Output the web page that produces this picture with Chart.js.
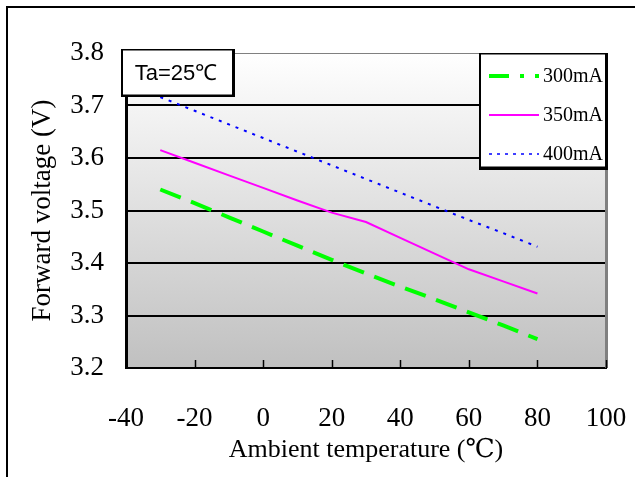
<!DOCTYPE html>
<html>
<head>
<meta charset="utf-8">
<script src="https://cdn.jsdelivr.net/npm/chart.js@4.4.0/dist/chart.umd.min.js"></script>
<style>
  html, body { margin: 0; padding: 0; background: #fff; }
</style>
</head>
<body>
<canvas id="vfChart" width="635" height="477"></canvas>
<script>
// values
const temps = [-30, -20, -10, 0, 10, 20, 30, 40, 50, 60, 70, 80];
const v300 = [3.540, 3.514, 3.487, 3.460, 3.433, 3.406, 3.380, 3.355, 3.331, 3.306, 3.281, 3.255];
const v350 = [3.615, 3.591, 3.567, 3.543, 3.519, 3.496, 3.478, 3.448, 3.418, 3.388, 3.365, 3.342];
const v400 = [3.716, 3.690, 3.664, 3.638, 3.612, 3.586, 3.560, 3.534, 3.508, 3.482, 3.457, 3.431];
const seriesLabels = ['300mA', '350mA', '400mA'];
const xTickValues = [-40, -20, 0, 20, 40, 60, 80, 100];
const yTickValues = [3.2, 3.3, 3.4, 3.5, 3.6, 3.7, 3.8];
const noteText = 'Ta=25℃';
const xTitle = 'Ambient temperature (℃)';
const yTitle = 'Forward voltage (V)';

const serif = "'Liberation Serif', 'DejaVu Serif', serif";

const toPoints = (vals) => temps.map((t, i) => ({ x: t, y: vals[i] }));

const decorPlugin = {
  id: 'decor',
  beforeDraw(chart) {
    const { ctx, chartArea: a } = chart;
    ctx.save();
    const g = ctx.createLinearGradient(0, a.top, 0, a.bottom);
    g.addColorStop(0, '#ffffff');
    g.addColorStop(1, '#c0c0c0');
    ctx.fillStyle = g;
    ctx.fillRect(a.left, a.top, a.right - a.left, a.bottom - a.top);
    // picture frame, top and left only
    ctx.fillStyle = '#000';
    ctx.fillRect(6, 6, chart.width - 6, 2);
    ctx.fillRect(6, 6, 2, chart.height - 6);
    ctx.restore();
  },
  afterDraw(chart) {
    const { ctx, chartArea: a } = chart;
    const xs = chart.scales.x;
    ctx.save();

    // right edge of the plot
    ctx.fillStyle = '#808080';
    ctx.fillRect(a.right - 1, a.top, 3, a.bottom - a.top);

    // tick marks point up into the plot
    ctx.strokeStyle = '#000';
    ctx.lineWidth = 1.5;
    xTickValues.slice(1).forEach(v => {
      const px = Math.round(xs.getPixelForValue(v)) + 0.5;
      ctx.beginPath();
      ctx.moveTo(px, a.bottom);
      ctx.lineTo(px, a.bottom - 8);
      ctx.stroke();
    });

    // Ta box
    ctx.fillStyle = '#000';
    ctx.fillRect(121, 49, 114, 48);
    ctx.fillStyle = '#fff';
    ctx.fillRect(123, 50.5, 109, 44);
    ctx.fillStyle = '#000';
    ctx.font = "22px 'Liberation Sans', Arial, sans-serif";
    ctx.textAlign = 'center';
    ctx.textBaseline = 'middle';
    ctx.fillText(noteText, 176, 74);

    // legend
    ctx.fillStyle = '#000';
    ctx.fillRect(479, 53, 129, 117);
    ctx.fillStyle = '#fff';
    ctx.fillRect(481, 54.5, 124, 112);
    const rows = [76, 115, 154];
    const sampleDash = [[20, 11, 4, 11, 4], [], [3, 5]];
    chart.data.datasets.forEach((ds, i) => {
      ctx.strokeStyle = ds.borderColor;
      ctx.lineWidth = i === 2 ? 1.5 : ds.borderWidth;
      ctx.setLineDash(sampleDash[i]);
      ctx.beginPath();
      ctx.moveTo(489, rows[i]);
      ctx.lineTo(539, rows[i]);
      ctx.stroke();
      ctx.setLineDash([]);
      ctx.fillStyle = '#000';
      ctx.font = '20px ' + serif;
      ctx.textAlign = 'left';
      ctx.fillText(ds.label, 543, rows[i] + 1);
    });
    ctx.restore();
  }
};

new Chart(document.getElementById('vfChart'), {
  type: 'line',
  data: {
    datasets: [
      { label: seriesLabels[0], data: toPoints(v300), borderColor: '#00ff00', borderWidth: 4, borderDash: [22, 11] },
      { label: seriesLabels[1], data: toPoints(v350), borderColor: '#ff00ff', borderWidth: 2 },
      { label: seriesLabels[2], data: toPoints(v400), borderColor: '#0000ff', borderWidth: 2, borderDash: [3, 6] }
    ]
  },
  options: {
    responsive: false,
    animation: false,
    layout: { autoPadding: false, padding: { left: 0, top: 53, right: 29, bottom: 0 } },
    elements: { point: { radius: 0 }, line: { tension: 0, fill: false } },
    plugins: { legend: { display: false }, tooltip: { enabled: false } },
    scales: {
      x: {
        type: 'linear',
        min: -40,
        max: 100,
        afterFit: s => { s.height = 109; s.paddingLeft = 0; s.paddingRight = 0; },
        afterBuildTicks: s => { s.ticks = xTickValues.map(v => ({ value: v })); },
        grid: { display: false },
        border: { display: true, color: '#000', width: 2 },
        ticks: { color: '#000', font: { family: serif, size: 27 }, padding: 27, maxRotation: 0, autoSkip: false },
        title: { display: true, text: xTitle, color: '#000', font: { family: serif, size: 26 }, padding: { top: 0, bottom: 11 } }
      },
      y: {
        min: 3.2,
        max: 3.8,
        afterFit: s => { s.width = 126; s.paddingTop = 0; s.paddingBottom = 0; },
        afterBuildTicks: s => { s.ticks = yTickValues.map(v => ({ value: v })); },
        grid: {
          drawTicks: false,
          color: c => (c.tick && c.tick.value === 3.8 ? '#808080' : '#000'),
          lineWidth: c => (c.tick && c.tick.value === 3.8 ? 1 : 2)
        },
        border: { display: true, color: '#000', width: 3 },
        ticks: { color: '#000', font: { family: serif, size: 27 }, padding: 22, callback: v => v.toFixed(1) },
        title: { display: true, text: yTitle, color: '#000', font: { family: serif, size: 27 }, padding: { top: 27, bottom: 0 } }
      }
    }
  },
  plugins: [decorPlugin]
});
</script>
</body>
</html>
